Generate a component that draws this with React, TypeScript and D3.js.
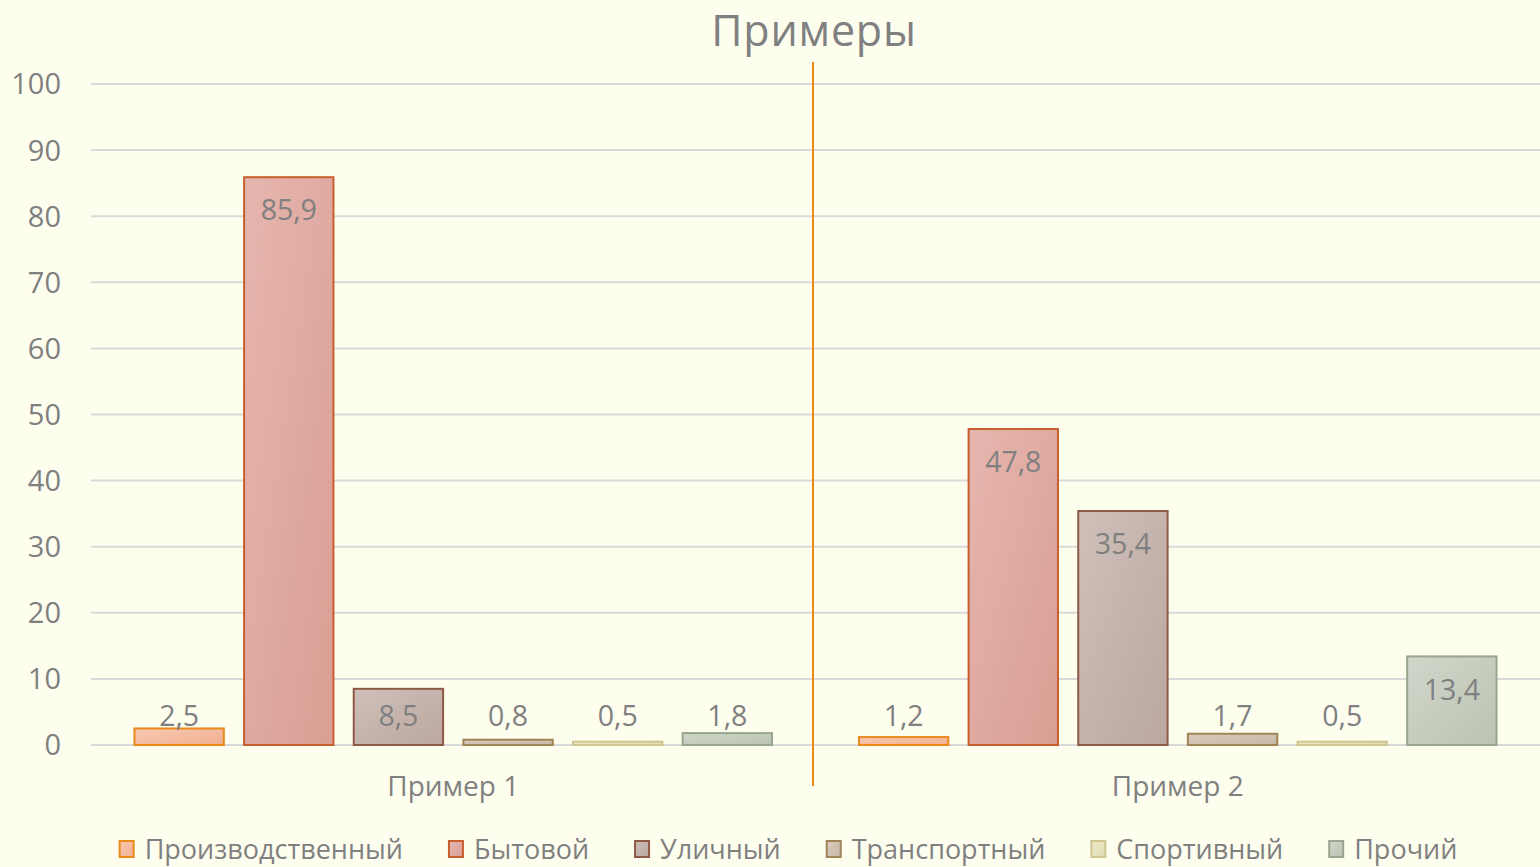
import React from "react";
import * as d3 from "d3";

const title = "Примеры";
const categories = ["Пример 1", "Пример 2"];
const seriesNames = ["Производственный", "Бытовой", "Уличный", "Транспортный", "Спортивный", "Прочий"];
const values1 = [2.5, 85.9, 8.5, 0.8, 0.5, 1.8];
const values2 = [1.2, 47.8, 35.4, 1.7, 0.5, 13.4];
const yTicks = [0, 10, 20, 30, 40, 50, 60, 70, 80, 90, 100];
const fillsLight = ["#F8C9B2", "#E6B6AE", "#CEC0B9", "#D8CCBD", "#EBE8C8", "#D0D6C9"];
const fillsDark = ["#F0AF90", "#D99E94", "#BBA79F", "#C8B8A5", "#E2DDB4", "#BCC3B4"];
const strokes = ["#E8891A", "#C65E2E", "#8E5A45", "#A08456", "#CFC690", "#97A68C"];

const W = 1540, H = 867;
const FONT = "'Open Sans', sans-serif";
const TEXT = "#808080";

function measure(text: string, size: number) {
  const c = document.createElement("canvas").getContext("2d")!;
  c.font = `${size}px 'Open Sans'`;
  return c.measureText(text).width;
}

export default function App() {
  const data = [values1, values2];
  const x0 = d3.scaleBand<string>().domain(categories).range([91, 1540]).paddingInner(0.12).paddingOuter(0.06);
  const x1 = d3.scaleBand<string>().domain(seriesNames).range([0, x0.bandwidth()]).paddingInner(0.185);
  const y = d3.scaleLinear().domain([0, 100]).range([745, 84]);

  const legendSize = 27;
  const sq = 16;
  const widths = seriesNames.map((n) => measure(n, legendSize));
  const itemW = widths.map((w) => sq + 10 + w);
  const gap = 45;
  const total = d3.sum(itemW) + gap * (seriesNames.length - 1);
  let lx = 788 - total / 2;
  const legendX = itemW.map((w) => {
    const v = lx;
    lx += w + gap;
    return v;
  });

  return (
    <svg width={W} height={H} style={{ position: "absolute", left: 0, top: 0, background: "#FEFEEF" }} fontFamily={FONT}>
      <defs>
        {seriesNames.map((n, i) => (
          <linearGradient key={n} id={`g${i}`} x1="0" y1="0" x2="1" y2="1">
            <stop offset="0%" stopColor={fillsLight[i]} />
            <stop offset="100%" stopColor={fillsDark[i]} />
          </linearGradient>
        ))}
      </defs>
      <rect width={W} height={H} fill="#FEFEEF" />
      <text x={814} y={46} textAnchor="middle" fontSize={43} fill={TEXT} letterSpacing={0.8}>{title}</text>
      {yTicks.map((t) => (
        <g key={t}>
          <line x1={91} x2={1540} y1={y(t)} y2={y(t)} stroke="#D9D9D9" strokeWidth={2} />
          <text x={61} y={y(t)} dy="0.36em" textAnchor="end" fontSize={29} fill={TEXT}>{t}</text>
        </g>
      ))}
      <line x1={813} x2={813} y1={62} y2={786} stroke="#E8891A" strokeWidth={2} />
      {categories.map((c, ci) => (
        <g key={c}>
          {seriesNames.map((s, si) => {
            const v = data[ci][si];
            const bx = x0(c)! + x1(s)!;
            const by = y(v);
            const labelY = Math.min(by + 33, y(0) - 29);
            return (
              <g key={s}>
                <rect x={bx} y={by} width={x1.bandwidth()} height={y(0) - by} fill={`url(#g${si})`} stroke={strokes[si]} strokeWidth={2} />
                <text x={bx + x1.bandwidth() / 2} y={labelY} dy="0.36em" textAnchor="middle" fontSize={28.5} fill={TEXT}>
                  {String(v).replace(".", ",")}
                </text>
              </g>
            );
          })}
          <text x={x0(c)! + x0.bandwidth() / 2} y={786} dy="0.36em" textAnchor="middle" fontSize={28} fill={TEXT}>{c}</text>
        </g>
      ))}
      {seriesNames.map((s, i) => (
        <g key={s} transform={`translate(${legendX[i]},849)`}>
          <rect x={1} y={-8} width={sq - 2} height={sq} fill={`url(#g${i})`} stroke={strokes[i]} strokeWidth={2} />
          <text x={sq + 10} y={0} dy="0.36em" fontSize={legendSize} fill={TEXT}>{s}</text>
        </g>
      ))}
    </svg>
  );
}
